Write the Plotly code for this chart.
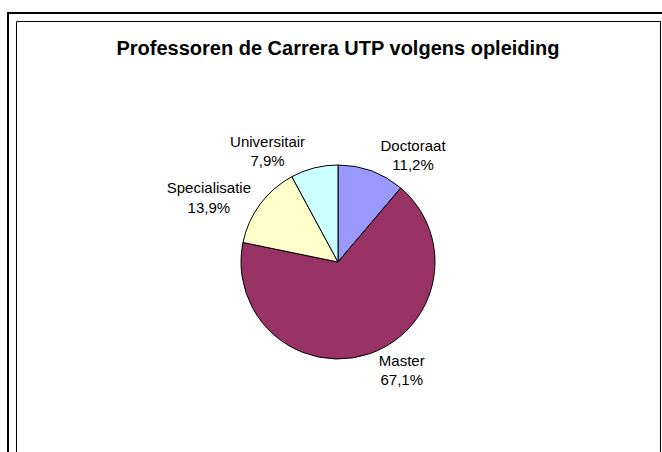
import plotly.graph_objects as go

labels = ["Doctoraat", "Master", "Specialisatie", "Universitair"]
values = [11.2, 67.1, 13.9, 7.9]
colors = ["#9999FF", "#993366", "#FFFFCC", "#CCFFFF"]
title_text = "Professoren de Carrera UTP volgens opleiding"

W, H = 662, 452
FONT = "Liberation Sans, Arial, sans-serif"

fig = go.Figure(go.Pie(
    labels=labels,
    values=values,
    sort=False,
    direction="clockwise",
    rotation=0,
    marker=dict(colors=colors, line=dict(color="black", width=1)),
    textposition="outside",
    texttemplate="%{label}<br>%{value:.1f}%",
    textfont=dict(family=FONT, size=15, color="black"),
    outsidetextfont=dict(family=FONT, size=15, color="black"),
    showlegend=False,
    hoverinfo="label+value",
    domain=dict(x=[(338 - 97) / W, (338 + 97) / W], y=[(H - 359) / H, (H - 165) / H]),
    automargin=False,
))

fig.update_layout(
    width=W, height=H,
    margin=dict(l=0, r=0, t=0, b=0),
    paper_bgcolor="white",
    plot_bgcolor="white",
    separators=",.",
    title=dict(
        text="<b>" + title_text + "</b>",
        x=338 / W, xanchor="center",
        y=1 - 48 / H, yanchor="middle", yref="container",
        font=dict(family=FONT, size=20, color="black"),
    ),
    shapes=[
        dict(type="rect", xref="paper", yref="paper",
             x0=8 / W, x1=(W + 10) / W, y0=-0.05, y1=1 - 13 / H,
             line=dict(color="black", width=2)),
        dict(type="rect", xref="paper", yref="paper",
             x0=16.5 / W, x1=660.5 / W, y0=-0.05, y1=1 - 21.5 / H,
             line=dict(color="black", width=1)),
    ],
)

fig.write_html(
    "out.html",
    config={"displayModeBar": False},
    post_script="document.body.style.margin='0';document.body.style.overflow='hidden';",
)
